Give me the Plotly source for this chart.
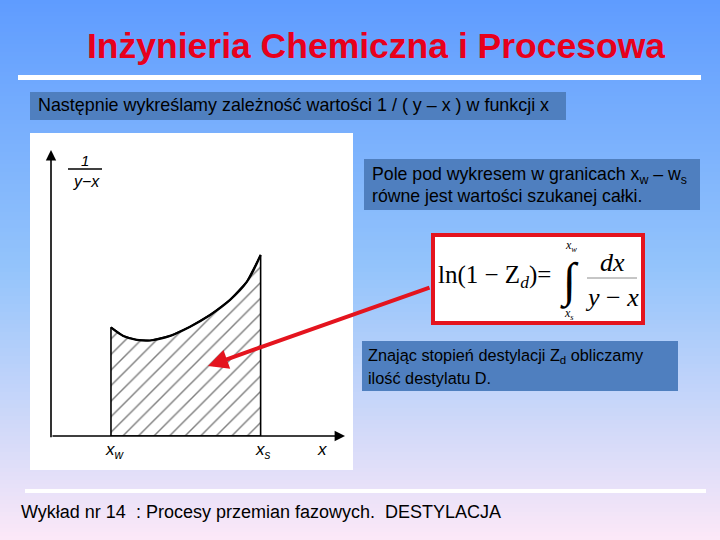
import plotly.graph_objects as go

# ---- data for the diagram (arbitrary units, origin at axis crossing) ----
curve_x = [0.204, 0.246, 0.292, 0.337, 0.405, 0.473, 0.541, 0.609, 0.666, 0.713]
curve_y = [0.380, 0.350, 0.336, 0.334, 0.350, 0.382, 0.423, 0.476, 0.539, 0.633]
x_w = curve_x[0]
x_s = curve_x[-1]

title_text = "Inżynieria Chemiczna i Procesowa"
box1_text = "Następnie wykreślamy zależność wartości 1 / ( y – x ) w funkcji x"
box2_lines = ["Pole pod wykresem w granicach x<sub>w</sub> – w<sub>s</sub>",
              "równe jest wartości szukanej całki."]
box3_lines = ["Znając stopień destylacji Z<sub>d</sub> obliczamy",
              "ilość destylatu D."]
footer_text = "Wykład nr 14\u00a0\u00a0: Procesy przemian fazowych.\u00a0\u00a0DESTYLACJA"

W, H = 720, 540


def px(x):
    return x / W


def py(y):
    return 1 - y / H


shapes = []
# background gradient
stops = [(0.0, (95, 156, 255)), (0.5, (148, 196, 251)), (1.0, (252, 232, 248))]


def grad(t):
    for (t0, c0), (t1, c1) in zip(stops[:-1], stops[1:]):
        if t <= t1:
            f = (t - t0) / (t1 - t0)
            return tuple(int(round(a + (b - a) * f)) for a, b in zip(c0, c1))
    return stops[-1][1]


step = 4
for y0 in range(0, H, step):
    c = grad((y0 + step / 2) / H)
    shapes.append(dict(type="rect", xref="paper", yref="paper", layer="below",
                       x0=0, x1=1, y0=py(y0 + step + 0.5), y1=py(y0),
                       fillcolor="rgb(%d,%d,%d)" % c, line=dict(width=0)))

# white lines
shapes.append(dict(type="rect", xref="paper", yref="paper", layer="below",
                   x0=px(18), x1=px(701), y0=py(80), y1=py(75),
                   fillcolor="white", line=dict(width=0)))
shapes.append(dict(type="rect", xref="paper", yref="paper", layer="below",
                   x0=px(25), x1=px(706), y0=py(493), y1=py(489),
                   fillcolor="white", line=dict(width=0)))

# white picture area
shapes.append(dict(type="rect", xref="paper", yref="paper", layer="below",
                   x0=px(30), x1=px(353), y0=py(470), y1=py(133),
                   fillcolor="white", line=dict(width=0)))

box_fill = "rgb(79,127,191)"
for (x0, y0, x1, y1) in [(30, 92, 566, 120), (364, 159, 700, 210), (362, 341, 678, 391)]:
    shapes.append(dict(type="rect", xref="paper", yref="paper", layer="below",
                       x0=px(x0), x1=px(x1), y0=py(y1), y1=py(y0),
                       fillcolor=box_fill, line=dict(width=0)))

# formula box
red = "rgb(228,20,30)"
shapes.append(dict(type="rect", xref="paper", yref="paper", layer="above",
                   x0=px(433), x1=px(643), y0=py(323), y1=py(235),
                   fillcolor="white", line=dict(color=red, width=4)))
# fraction bar in formula
shapes.append(dict(type="line", xref="paper", yref="paper", layer="above",
                   x0=px(587), x1=px(637), y0=py(278), y1=py(278),
                   line=dict(color="rgb(140,140,140)", width=1)))
# fraction bar in diagram label
shapes.append(dict(type="line", xref="paper", yref="paper", layer="above",
                   x0=px(68), x1=px(102), y0=py(169), y1=py(169),
                   line=dict(color="black", width=1.5)))

fig = go.Figure()

# hatched area under the curve
poly_x = [x_w] + curve_x + [x_s, x_w]
poly_y = [0] + curve_y + [0, 0]
fig.add_trace(go.Scatter(
    x=poly_x, y=poly_y, mode="lines", fill="toself",
    fillcolor="white",
    fillpattern=dict(shape="/", fgcolor="black", bgcolor="white", size=11, solidity=0.13),
    line=dict(color="black", width=1.6), hoverinfo="skip", showlegend=False))
fig.add_trace(go.Scatter(
    x=curve_x, y=curve_y, mode="lines", line=dict(color="black", width=2.2, shape="spline"),
    hoverinfo="skip", showlegend=False))

ann = []
arial = "Liberation Sans, Arial, sans-serif"
serif = "Liberation Serif, Times New Roman, serif"

# diagram axes (arrows)
ann.append(dict(xref="x", yref="y", axref="x", ayref="y", x=1.0, y=0, ax=0, ay=0,
                showarrow=True, arrowhead=2, arrowsize=1.3, arrowwidth=1.6,
                arrowcolor="black", text=""))
ann.append(dict(xref="x", yref="y", axref="x", ayref="y", x=0, y=1.0, ax=0, ay=-0.01,
                showarrow=True, arrowhead=2, arrowsize=1.3, arrowwidth=1.6,
                arrowcolor="black", text=""))


def t(x, y, text, size, font=arial, color="black", xanchor="center", **kw):
    ann.append(dict(xref="paper", yref="paper", x=px(x), y=py(y), text=text,
                    showarrow=False, xanchor=xanchor, yanchor="middle",
                    font=dict(family=font, size=size, color=color), **kw))


# diagram labels
t(85, 160, "<i>1</i>", 15)
t(86, 181, "<i>y−x</i>", 16)
t(115, 451, "<i>x<sub>w</sub></i>", 17)
t(263, 451, "<i>x<sub>s</sub></i>", 17)
t(322, 449, "<i>x</i>", 17)

# title
t(376, 46, "<b>" + title_text + "</b>", 35.5, color="rgb(232,0,28)")

# boxes text
t(36, 105, box1_text, 17.9, xanchor="left")
t(370, 175, box2_lines[0], 17.7, xanchor="left")
t(370, 196, box2_lines[1], 17.7, xanchor="left")
t(366, 356, box3_lines[0], 16.3, xanchor="left")
t(366, 378, box3_lines[1], 16.3, xanchor="left")
t(19, 512, footer_text, 18, xanchor="left")

# formula
t(494, 276, "ln(1 − Z<sub><i>d</i></sub>)=", 25, font=serif)
t(569, 281, "∫", 48, font=serif)
t(571, 246, "<i>x<sub>w</sub></i>", 12, font=serif)
t(569, 314, "<i>x<sub>s</sub></i>", 12, font=serif)
t(612, 262, "<i>dx</i>", 26, font=serif)
t(612, 297, "<i>y</i> − <i>x</i>", 26, font=serif)

# red arrow
ann.append(dict(xref="paper", yref="paper", x=px(208), y=py(366),
                ax=431 - 208, ay=287 - 366, axref="pixel", ayref="pixel",
                showarrow=True, arrowhead=2, arrowsize=1.0, arrowwidth=4,
                arrowcolor=red, text=""))

fig.update_layout(
    width=W, height=H, margin=dict(l=0, r=0, t=0, b=0),
    paper_bgcolor="white", plot_bgcolor="rgba(0,0,0,0)",
    shapes=shapes, annotations=ann, showlegend=False,
    xaxis=dict(domain=[px(51), px(345)], range=[0, 1], visible=False, fixedrange=True),
    yaxis=dict(domain=[py(436), py(150)], range=[0, 1], visible=False, fixedrange=True),
)

fig.write_html("out.html", config={"displayModeBar": False})
